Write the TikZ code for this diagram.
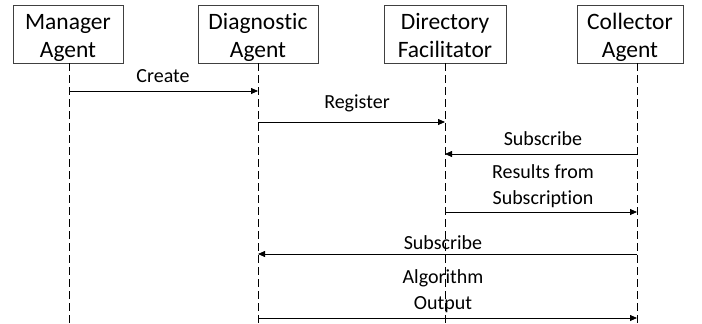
\documentclass[tikz,border=0pt]{standalone}
\usepackage{fontspec}
\setmainfont{Carlito}[Ligatures=NoCommon]
\usetikzlibrary{arrows.meta}
% fixed-height first line and fixed-depth last line for the agent boxes
\newcommand{\boxtop}{\rule{0pt}{24pt}}
\newcommand{\boxbot}{\rule[-6pt]{0pt}{0pt}}
\begin{document}
\begin{tikzpicture}[x=1pt,y=-1pt,
  agent/.style={draw=black!75,line width=0.8pt,align=center,
    font=\fontsize{23.5}{28}\selectfont,inner sep=0pt,
    minimum height=58pt},
  lifeline/.style={draw=black,line width=0.8pt,dash pattern=on 8pt off 4pt},
  msg/.style={draw=black,line width=0.8pt,-{Triangle[length=7pt,width=6pt]}},
  lbl/.style={align=center,font=\fontsize{20}{25.5}\selectfont,inner sep=0pt,anchor=base}]
\useasboundingbox (0,0) rectangle (702,324);
% agent boxes
\node[agent,minimum width=110pt] (ma) at (68,34) {\boxtop Manager\\Agent\boxbot};
\node[agent,minimum width=120pt] (da) at (258,34) {\boxtop Diagnostic\\Agent\boxbot};
\node[agent,minimum width=122pt] (df) at (445,34) {\boxtop Directory\\Facilitator\boxbot};
\node[agent,minimum width=106pt] (ca) at (630,34) {\boxtop Collector\\Agent\boxbot};
% lifeline ends
\coordinate (maE) at (69,324);
\coordinate (daE) at (258,324);
\coordinate (dfE) at (445,324);
\coordinate (caE) at (637,324);
\draw[lifeline] (ma.south -| maE) -- (maE);
\draw[lifeline] (da.south -| daE) -- (daE);
\draw[lifeline] (df.south -| dfE) -- (dfE);
\draw[lifeline] (ca.south -| caE) -- (caE);
% message anchors on the lifelines
\coordinate (m1a) at (69,91);   \coordinate (m1b) at (258,91);
\coordinate (m2a) at (258,122); \coordinate (m2b) at (445,122);
\coordinate (m3a) at (637,154); \coordinate (m3b) at (445,154);
\coordinate (m4a) at (445,212); \coordinate (m4b) at (637,212);
\coordinate (m5a) at (637,254); \coordinate (m5b) at (258,254);
\coordinate (m6a) at (258,318); \coordinate (m6b) at (637,318);
% messages
\draw[msg] (m1a) -- (m1b);
\draw[msg] (m2a) -- (m2b);
\draw[msg] (m3a) -- (m3b);
\draw[msg] (m4a) -- (m4b);
\draw[msg] (m5a) -- (m5b);
\draw[msg] (m6a) -- (m6b);
% message labels (placed by the baseline of their last line)
\node[lbl] (l1) at (163,82.5) {Create};
\node[lbl] (l2) at (357,108) {Register};
\node[lbl] (l3) at (543,145) {Subscribe};
\node[lbl] (l4) at (543,204) {Results from\\Subscription};
\node[lbl] (l5) at (443,249) {Subscribe};
\node[lbl] (l6) at (443,309) {Algorithm\\Output};
\end{tikzpicture}
\end{document}
